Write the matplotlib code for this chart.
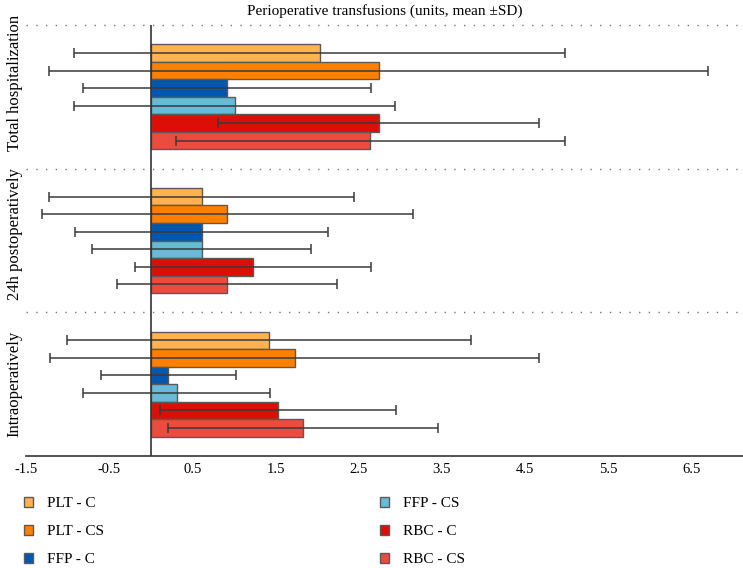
import matplotlib
matplotlib.use("Agg")
import matplotlib.pyplot as plt
import numpy as np

plt.rcParams['font.family'] = ['Liberation Serif', 'DejaVu Serif']

groups = ["Intraoperatively", "24h postoperatively", "Total hospitalization"]
series = ["PLT - C", "PLT - CS", "FFP - C", "FFP - CS", "RBC - C", "RBC - CS"]
colors = ["#FFB34F", "#FF7F00", "#0057B0", "#67BAD8", "#DD0E05", "#EB4C3F"]

# means per series, order of groups: Intraoperatively, 24h, Total
means = {
    "PLT - C":  [1.42, 0.61, 2.03],
    "PLT - CS": [1.73, 0.92, 2.74],
    "FFP - C":  [0.21, 0.61, 0.92],
    "FFP - CS": [0.31, 0.61, 1.01],
    "RBC - C":  [1.53, 1.23, 2.74],
    "RBC - CS": [1.83, 0.92, 2.64],
}
sds = {
    "PLT - C":  [2.43, 1.83, 2.95],
    "PLT - CS": [2.94, 2.23, 3.96],
    "FFP - C":  [0.81, 1.52, 1.73],
    "FFP - CS": [1.12, 1.32, 1.93],
    "RBC - C":  [1.42, 1.42, 1.93],
    "RBC - CS": [1.62, 1.32, 2.34],
}
xticks = [-1.5, -0.5, 0.5, 1.5, 2.5, 3.5, 4.5, 5.5, 6.5]

fig = plt.figure(figsize=(7.43, 5.68), dpi=100)
ax = fig.add_axes([26/743, (568-456)/568, 1 - 26/743, (456-25)/568])

bh = 0.122
n = len(series)
centers = np.arange(len(groups)) + 0.5
handles = []
for i, s in enumerate(series):
    offs = (n/2 - i - 0.5) * bh
    ys = centers + offs
    b = ax.barh(ys, means[s], height=bh, color=colors[i], edgecolor="#5a5a5a",
                linewidth=1.0, label=s, zorder=2)
    handles.append(b)
    ax.errorbar(means[s], ys, xerr=sds[s], fmt='none', ecolor="#3a3a3a",
                elinewidth=1.1, capsize=3.6, capthick=1.1, zorder=3)

ax.set_xlim(-1.5, 7.12)
ax.set_ylim(0, 3)
ax.axvline(0, color="#333333", lw=1.2, zorder=4)
for yv in [1, 2, 3]:
    ax.axhline(yv, color="#777777", lw=1.0, ls=(0, (1, 6)), zorder=1, clip_on=False)

for sp in ["top", "right", "left"]:
    ax.spines[sp].set_visible(False)
ax.spines["bottom"].set_color("#444444")
ax.spines["bottom"].set_linewidth(1.3)
ax.set_xticks(xticks)
ax.set_xticklabels([f"{t:g}" for t in xticks], fontsize=10.5)
ax.tick_params(axis='x', length=0, pad=5)
ax.set_yticks([])

label_shift = [0.0, 0.045, 0.096]  # layout nudges of the group labels
for c, g, d in zip(centers, groups, label_shift):
    ax.text(-0.0155, c + d, g, rotation=90, ha='center', va='center', fontsize=12,
            transform=ax.get_yaxis_transform(), clip_on=False)

ax.set_title("Perioperative transfusions (units, mean ±SD)", fontsize=11, pad=7)

leg_kw = dict(frameon=False, fontsize=11, handlelength=0.62, handleheight=0.62,
              handletextpad=0.9, labelspacing=0.95, borderpad=0, borderaxespad=0,
              loc='upper left')
fig.legend(handles=handles[:3], labels=series[:3],
           bbox_to_anchor=(24/743, 1 - 497/568), **leg_kw)
fig.legend(handles=handles[3:], labels=series[3:],
           bbox_to_anchor=(380/743, 1 - 497/568), **leg_kw)

fig.savefig("out.png", dpi=100)
